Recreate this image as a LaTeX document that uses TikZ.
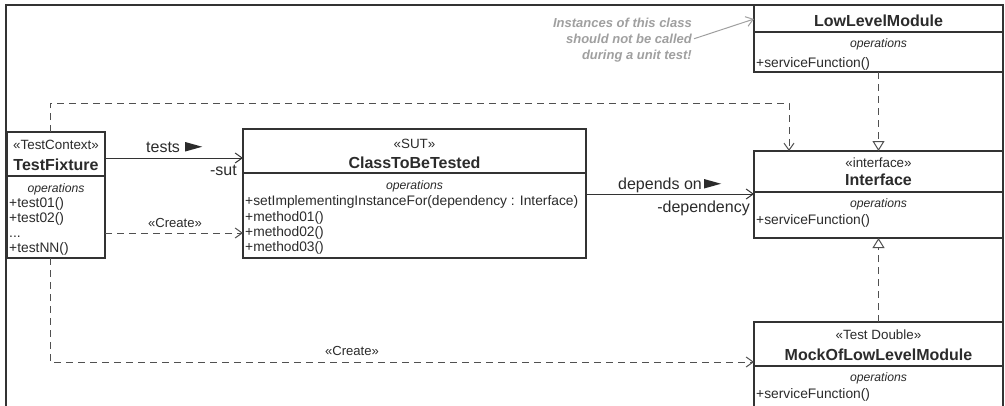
\documentclass[tikz,border=0pt]{standalone}
\usepackage{fontspec}
\setmainfont{Liberation Sans}
\usetikzlibrary{arrows.meta}
\definecolor{ink}{HTML}{2B2B2B}
\definecolor{linec}{HTML}{333333}
\definecolor{dashc}{HTML}{505050}
\definecolor{notec}{HTML}{A0A0A0}
\begin{document}
\begin{tikzpicture}[x=1pt,y=-1pt,
  classbox/.style={draw=linec, line width=1.2pt, anchor=north west, inner sep=0pt, outer sep=0pt},
  divl/.style={draw=linec, line width=1.2pt},
  stereo/.style={anchor=base, inner sep=0pt, text=ink, font=\fontsize{13.4}{15}\selectfont},
  cname/.style={anchor=base, inner sep=0pt, text=ink, font=\fontsize{16}{18}\selectfont\bfseries},
  opsl/.style={anchor=base, inner sep=0pt, text=ink, font=\fontsize{12.2}{14}\selectfont\itshape},
  member/.style={anchor=base west, inner sep=0pt, text=ink, font=\fontsize{13.8}{15}\selectfont},
  albl/.style={inner sep=0pt, text=ink, font=\fontsize{16}{18}\selectfont},
  clbl/.style={anchor=base, inner sep=0pt, text=ink, font=\fontsize{13.1}{15}\selectfont},
  assoc/.style={draw=linec, line width=1pt, -{Straight Barb[length=7pt,width=10pt,line width=1pt]}},
  dep/.style={draw=dashc, line width=1pt, dash pattern=on 7pt off 5pt, -{Straight Barb[length=7pt,width=10pt,line width=1pt]}},
  real/.style={draw=dashc, line width=1pt, dash pattern=on 7pt off 5pt, -{Triangle[open,length=10pt,width=12pt,line width=1pt,fill=white]}},
  notearrow/.style={draw=notec, line width=1pt, -{Straight Barb[length=7pt,width=10pt,line width=1pt]}},
]
\useasboundingbox (0,0) rectangle (1005,405);
\clip (0,0) rectangle (1005,405);
\fill[white] (0,0) rectangle (1005,405);
% frame
\draw[linec, line width=1.5pt] (6,430) -- (6,5) -- (1003,5) -- (1003,430);

% boxes
\node[classbox, minimum width=98pt, minimum height=126pt] (tf) at (7,132) {};
\node[classbox, minimum width=343pt, minimum height=129pt] (sut) at (243,129) {};
\node[classbox, minimum width=249pt, minimum height=67pt] (llm) at (754,5) {};
\node[classbox, minimum width=249pt, minimum height=87pt] (intf) at (754,151) {};
\node[classbox, minimum width=249pt, minimum height=110pt] (mock) at (754,322) {};

% dividers
\draw[divl] (tf.west |- 0,176) -- (tf.east |- 0,176);
\draw[divl] (sut.west |- 0,173) -- (sut.east |- 0,173);
\draw[divl] (llm.west |- 0,32) -- (llm.east |- 0,32);
\draw[divl] (intf.west |- 0,192) -- (intf.east |- 0,192);
\draw[divl] (mock.west |- 0,366) -- (mock.east |- 0,366);

% TestFixture
\node[stereo] (tfst) at (tf.north |- 0,149) {«TestContext»};
\node[cname] (tfnm) at (tf.north |- 0,170) {TestFixture};
\node[opsl] (tfop) at (tf.north |- 0,192) {operations};
\node[member] (tfm1) at (9,207) {+test01()};
\node[member] (tfm2) at (9,222) {+test02()};
\node[member] (tfm3) at (9,237) {...};
\node[member] (tfm4) at (9,252) {+testNN()};

% ClassToBeTested
\node[stereo] (sutst) at (sut.north |- 0,148) {«SUT»};
\node[cname] (sutnm) at (sut.north |- 0,168) {ClassToBeTested};
\node[opsl] (sutop) at (sut.north |- 0,189) {operations};
\node[member] (sutm1) at (245,205) {+setImplementingInstanceFor(dependency : Interface)};
\node[member] (sutm2) at (245,221) {+method01()};
\node[member] (sutm3) at (245,236) {+method02()};
\node[member] (sutm4) at (245,251) {+method03()};

% LowLevelModule
\node[cname] (llmnm) at (llm.north |- 0,26) {LowLevelModule};
\node[opsl] (llmop) at (llm.north |- 0,47) {operations};
\node[member] (llmm1) at (756,67) {+serviceFunction()};

% Interface
\node[stereo] (intfst) at (intf.north |- 0,167) {«interface»};
\node[cname] (intfnm) at (intf.north |- 0,185) {Interface};
\node[opsl] (intfop) at (intf.north |- 0,207) {operations};
\node[member] (intfm1) at (756,224) {+serviceFunction()};

% Mock
\node[stereo] (mockst) at (mock.north |- 0,339) {«Test Double»};
\node[cname] (mocknm) at (mock.north |- 0,360) {MockOfLowLevelModule};
\node[opsl] (mockop) at (mock.north |- 0,381) {operations};
\node[member] (mockm1) at (756,398) {+serviceFunction()};

% note
\node[anchor=north east, align=right, inner sep=0pt, text=notec,
      font=\fontsize{13}{16}\selectfont\bfseries\itshape] (note) at (692,17.5)
  {Instances of this class\\should not be called\\during a unit test!};
\draw[notearrow] ([xshift=2pt,yshift=1pt]note.east) -- ([yshift=-14pt]llm.north west);

% tests association
\draw[assoc] ([yshift=-26pt]tf.north east) -- ([yshift=-29pt]sut.north west);
\node[albl, anchor=base west] (testslbl) at (146,152) {tests};
\fill[ink] ([xshift=5pt,yshift=0.5pt]testslbl.base east) -- ++(0,-9.5) -- ++(17,4.75) -- cycle;
\node[albl, anchor=base east] (sutlbl) at (237,175) {-sut};

% Create (upper)
\draw[dep] ([yshift=-101pt]tf.north east) -- ([yshift=-104pt]sut.north west);
\node[clbl] (create1) at (175,227) {«Create»};

% depends on
\draw[assoc] ([yshift=-65pt]sut.north east) -- ([yshift=-43pt]intf.north west);
\node[albl, anchor=base west] (deplbl) at (618,189) {depends on};
\fill[ink] ([xshift=2pt,yshift=0.5pt]deplbl.base east) -- ++(0,-9.5) -- ++(17,4.75) -- cycle;
\node[albl, anchor=base east] (deprole) at (750,212) {-dependency};

% dashed dependency from TestFixture to Interface
\draw[dep] ([xshift=-6pt]tf.north) -- ++(0,-29) -| ([xshift=-89.5pt]intf.north);

% Create (lower)
\draw[dep] ([xshift=-6pt]tf.south) |- ([yshift=-40pt]mock.north west);
\node[clbl] (create2) at (352,355) {«Create»};

% realizations
\draw[real] (llm.south) -- (intf.north);
\draw[real] (mock.north) -- (intf.south);
\end{tikzpicture}
\end{document}
